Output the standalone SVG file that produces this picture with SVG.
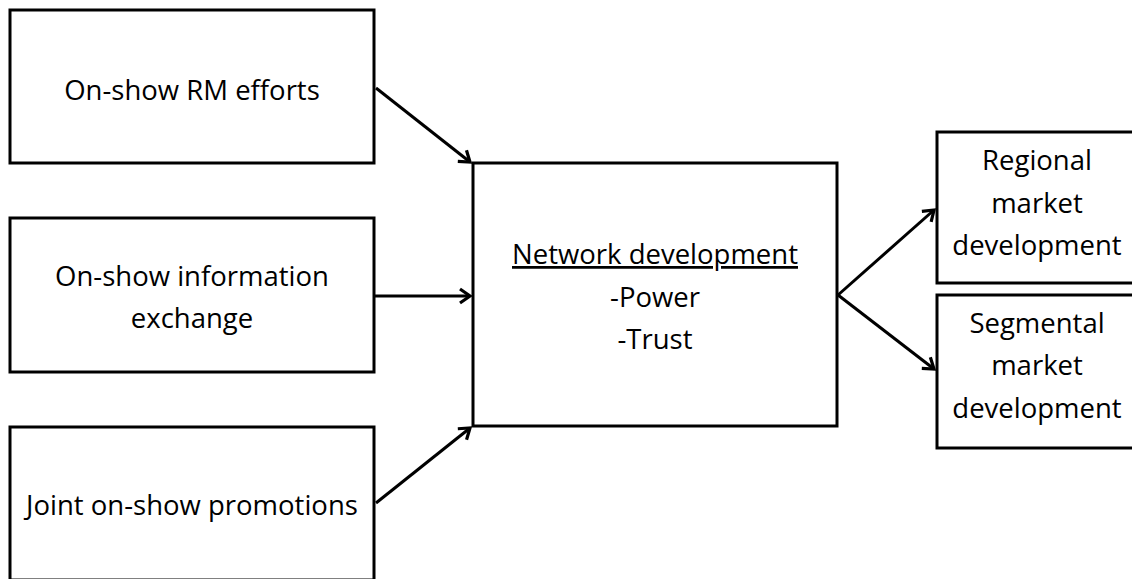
<svg xmlns="http://www.w3.org/2000/svg" width="1132" height="579" viewBox="0 0 1132 579">
  <style>
    .box { fill: #ffffff; stroke: #000000; stroke-width: 3; }
    .lbl { font-family: "Open Sans", "Liberation Sans", sans-serif; font-size: 27.5px; fill: #000000; text-anchor: middle; }
    .edge { fill: none; stroke: #000000; stroke-width: 3; }
  </style>
  <defs>
    <marker id="arrow" markerUnits="userSpaceOnUse" markerWidth="20" markerHeight="20" refX="0" refY="0" viewBox="-14 -10 16 20" orient="auto">
      <path d="M -10 -7 L 0 0 L -10 7" fill="none" stroke="#000000" stroke-width="3.2" stroke-linejoin="miter"/>
    </marker>
  </defs>
  <rect width="1132" height="579" fill="#ffffff"/>

  <g id="rm-efforts">
    <rect class="box" x="10" y="10" width="364" height="153"/>
    <text class="lbl" x="192" y="100">On-show RM efforts</text>
  </g>

  <g id="info-exchange">
    <rect class="box" x="10" y="218" width="364" height="154"/>
    <text class="lbl" x="192" y="286">On-show information</text>
    <text class="lbl" x="192" y="328">exchange</text>
  </g>

  <g id="joint-promotions">
    <rect class="box" x="10" y="427" width="364" height="153"/>
    <text class="lbl" x="192" y="515">Joint on-show promotions</text>
  </g>

  <g id="network-development">
    <rect class="box" x="473" y="163" width="364" height="263"/>
    <text class="lbl" x="655" y="264" text-decoration="underline">Network development</text>
    <text class="lbl" x="655" y="307">-Power</text>
    <text class="lbl" x="655" y="349">-Trust</text>
  </g>

  <g id="regional-market">
    <rect class="box" x="937" y="132" width="210" height="151"/>
    <text class="lbl" x="1037" y="170">Regional</text>
    <text class="lbl" x="1037" y="213">market</text>
    <text class="lbl" x="1037" y="255">development</text>
  </g>

  <g id="segmental-market">
    <rect class="box" x="937" y="295" width="210" height="153"/>
    <text class="lbl" x="1037" y="333">Segmental</text>
    <text class="lbl" x="1037" y="375">market</text>
    <text class="lbl" x="1037" y="418">development</text>
  </g>

  <g id="connectors">
    <line class="edge" x1="376" y1="88" x2="470" y2="162" marker-end="url(#arrow)"/>
    <line class="edge" x1="375" y1="296" x2="470" y2="296" marker-end="url(#arrow)"/>
    <line class="edge" x1="376" y1="503" x2="470" y2="428" marker-end="url(#arrow)"/>
    <line class="edge" x1="838" y1="295" x2="934" y2="210" marker-end="url(#arrow)"/>
    <line class="edge" x1="838" y1="295" x2="934" y2="369" marker-end="url(#arrow)"/>
  </g>
</svg>
